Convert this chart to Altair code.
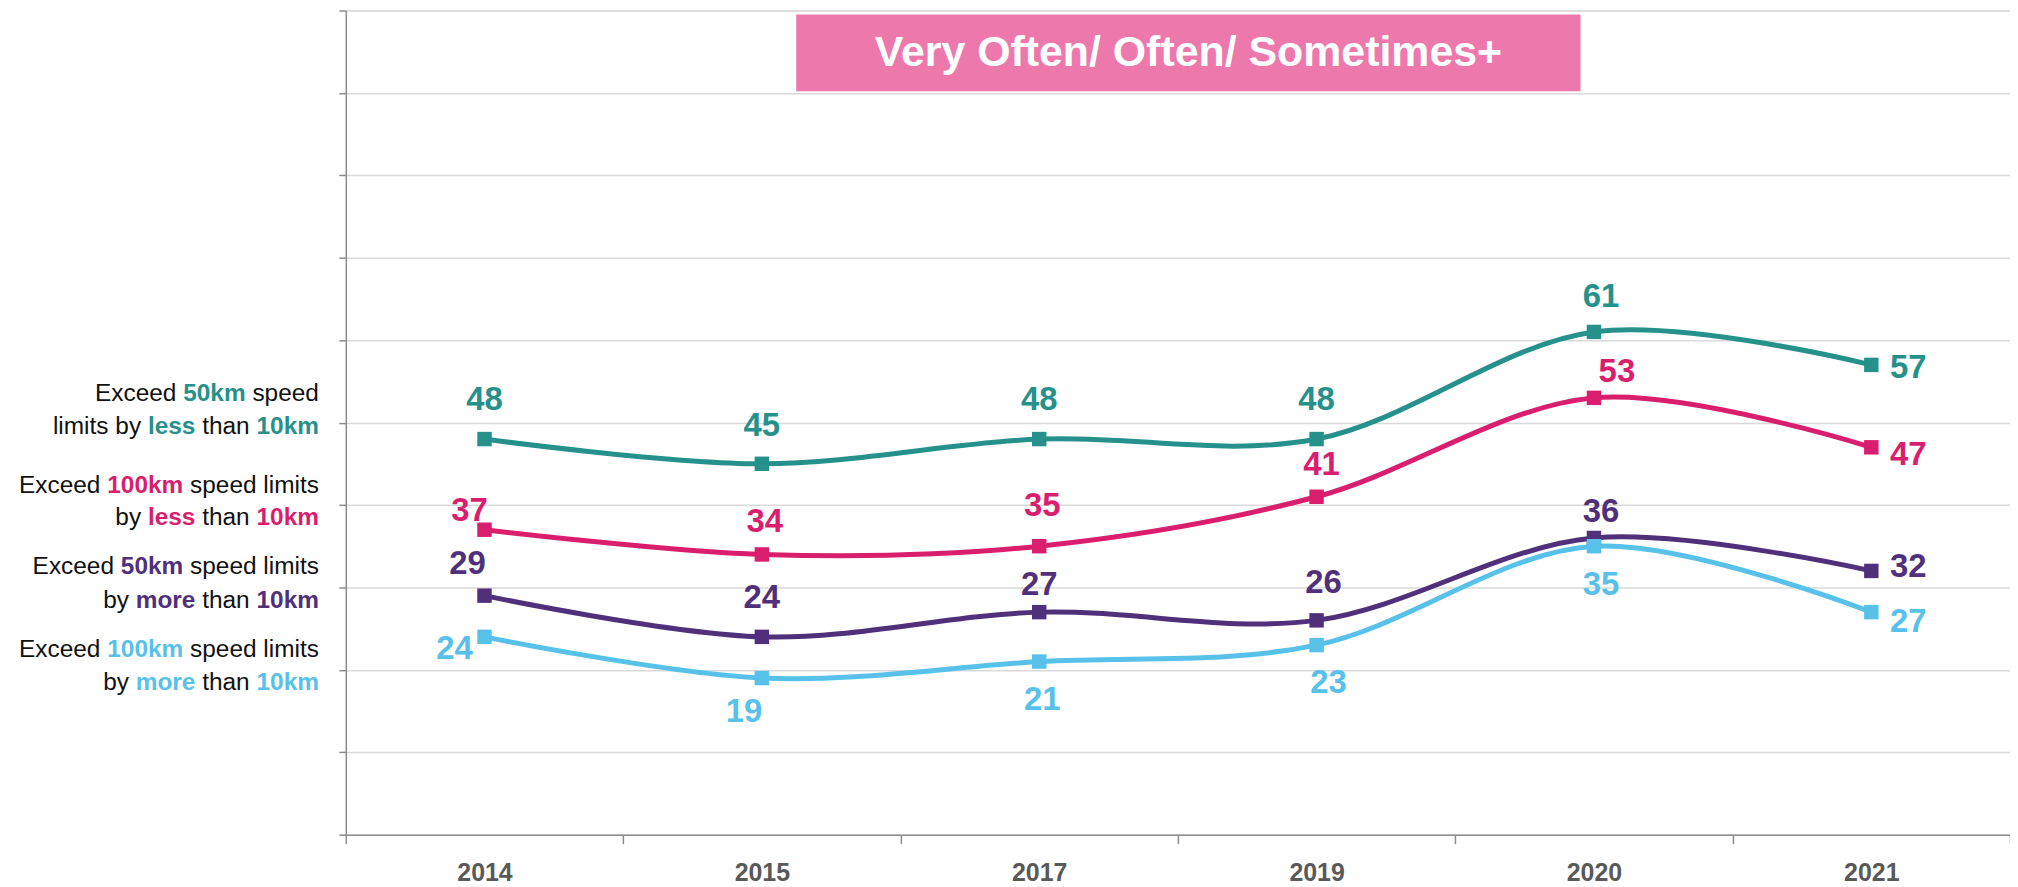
import altair as alt
import pandas as pd

# ---------------- data ----------------
YEARS = ["2014", "2015", "2017", "2019", "2020", "2021"]
SERIES = ["50km less", "100km less", "50km more", "100km more"]
V_50_LESS = [48, 45, 48, 48, 61, 57]
V_100_LESS = [37, 34, 35, 41, 53, 47]
V_50_MORE = [29, 24, 27, 26, 36, 32]
V_100_MORE = [24, 19, 21, 23, 35, 27]
VALUES = [V_50_LESS, V_100_LESS, V_50_MORE, V_100_MORE]
TITLE = "Very Often/ Often/ Sometimes+"

# ---------------- styles / layout ----------------
COLORS = ["#26918B", "#D91E6E", "#51307B", "#57C1EA"]
BLACK = "#111111"
TITLE_BG = "#ED78AB"
AXIS_GRAY = "#8C8C8C"
GRID_GRAY = "#D9D9D9"
FONT = "Liberation Sans"

W, H = 1670, 827
PAD = {"left": 339, "top": 1, "right": 0, "bottom": 50}

# label offsets (px) relative to each point: visual centre of the digits
LABEL_DX = [[0, 0, 0, 0, 7, 37],
            [-15, 3, 3, 5, 23, 37],
            [-17, 0, 0, 7, 7, 37],
            [-30, -18, 3, 12, 7, 37]]
LABEL_DY = [[-41, -40, -41, -41, -37, 1],
            [-21, -34, -42, -34, -28, 6],
            [-34, -41, -29, -39, -28, -6],
            [10, 32, 37, 36, 37, 8]]
LABEL_SIZE = 33

# left-hand rich-text legend: (text, colour index or None, bold)
LEGEND_ROWS = [
    [("Exceed ", None, False), ("50km", 0, True), (" speed", None, False)],
    [("limits by ", None, False), ("less", 0, True), (" than ", None, False), ("10km", 0, True)],
    [("Exceed ", None, False), ("100km", 1, True), (" speed limits", None, False)],
    [("by ", None, False), ("less", 1, True), (" than ", None, False), ("10km", 1, True)],
    [("Exceed ", None, False), ("50km", 2, True), (" speed limits", None, False)],
    [("by ", None, False), ("more", 2, True), (" than ", None, False), ("10km", 2, True)],
    [("Exceed ", None, False), ("100km", 3, True), (" speed limits", None, False)],
    [("by ", None, False), ("more", 3, True), (" than ", None, False), ("10km", 3, True)],
]
LEGEND_CENTER_Y = [383, 416, 475, 508, 557, 591, 640, 673]  # plot coords
LEGEND_RIGHT_X = -27
LEGEND_SIZE = 24.5

# Liberation Sans (Arial-compatible) advance widths per 1000 em
REG_W = {" ": 278, "E": 667, "x": 500, "c": 500, "e": 556, "d": 556, "s": 500,
         "p": 556, "l": 222, "i": 222, "m": 833, "t": 278, "b": 556, "y": 500,
         "h": 556, "a": 556, "n": 556, "o": 556, "r": 333, "k": 500}
BOLD_W = {" ": 278, "0": 556, "1": 556, "5": 556, "k": 556, "m": 889, "l": 278,
          "e": 556, "s": 556, "o": 611, "r": 389}


def text_width(s, bold, size):
    table = BOLD_W if bold else REG_W
    return sum(table.get(ch, 556) for ch in s) * size / 1000.0


# ---------------- data frame ----------------
rows = []
for s, vals in zip(SERIES, VALUES):
    for yr, v in zip(YEARS, vals):
        rows.append({"series": s, "year": yr, "value": v})
df = pd.DataFrame(rows)

x_enc = alt.X(
    "year:N",
    sort=YEARS,
    scale=alt.Scale(type="band", domain=YEARS, paddingInner=0, paddingOuter=0),
    axis=alt.Axis(
        title=None, labelAngle=0, grid=False, tickBand="extent",
        tickSize=9, tickColor=AXIS_GRAY, tickWidth=1.5,
        domainColor=AXIS_GRAY, domainWidth=1.5,
        labelFont=FONT, labelFontSize=25, labelFontWeight="bold",
        labelColor="#595959", labelBaseline="alphabetic", labelPadding=37,
    ),
)
y_enc = alt.Y(
    "value:Q",
    scale=alt.Scale(domain=[0, 100], nice=False, zero=True),
    axis=alt.Axis(
        title=None, labels=False, values=list(range(0, 101, 10)),
        tickSize=7, tickColor=AXIS_GRAY, tickWidth=1.5,
        domainColor=AXIS_GRAY, domainWidth=1.5,
        grid=True, gridColor=GRID_GRAY, gridWidth=1.5,
    ),
)

layers = []

# axes holder (invisible points)
layers.append(alt.Chart(df).mark_point(opacity=0).encode(x=x_enc, y=y_enc))

one = pd.DataFrame([{"k": 0}])

# title box
layers.append(
    alt.Chart(one).mark_rect(color=TITLE_BG).encode(
        x=alt.value(452), x2=alt.value(1239), y=alt.value(4), y2=alt.value(81)
    )
)
layers.append(
    alt.Chart(one).mark_text(
        font=FONT, fontSize=43, fontWeight="bold", color="white",
        align="center", baseline="alphabetic",
    ).encode(x=alt.value(845.5), y=alt.value(56), text=alt.value(TITLE))
)

# lines, markers and labels
for i, s in enumerate(SERIES):
    sub = df[df.series == s]
    layers.append(
        alt.Chart(sub).mark_line(
            interpolate="cardinal", tension=0, strokeWidth=5, color=COLORS[i]
        ).encode(x=alt.X("year:N", sort=YEARS), y="value:Q")
    )
    layers.append(
        alt.Chart(sub).mark_point(
            shape="square", filled=True, size=210, opacity=1, color=COLORS[i]
        ).encode(x=alt.X("year:N", sort=YEARS), y="value:Q")
    )
    cap = 0.716 * LABEL_SIZE
    for j, yr in enumerate(YEARS):
        layers.append(
            alt.Chart(sub)
            .transform_filter(alt.datum.year == yr)
            .mark_text(
                font=FONT, fontSize=LABEL_SIZE, fontWeight="bold", color=COLORS[i],
                align="center", baseline="alphabetic",
                dx=LABEL_DX[i][j], dy=LABEL_DY[i][j] + cap / 2,
            )
            .encode(x=alt.X("year:N", sort=YEARS), y="value:Q", text="value:Q")
        )

# rich-text legend on the left
cap_l = 0.716 * LEGEND_SIZE
for row, cy in zip(LEGEND_ROWS, LEGEND_CENTER_Y):
    total = sum(text_width(t, b, LEGEND_SIZE) for t, _, b in row)
    cursor = LEGEND_RIGHT_X - total
    for t, ci, b in row:
        w = text_width(t, b, LEGEND_SIZE)
        lead = len(t) - len(t.lstrip(" "))
        stripped = t.strip(" ")
        if stripped:
            x0 = cursor + text_width(" " * lead, b, LEGEND_SIZE)
            layers.append(
                alt.Chart(one).mark_text(
                    font=FONT, fontSize=LEGEND_SIZE,
                    fontWeight="bold" if b else "normal",
                    color=BLACK if ci is None else COLORS[ci],
                    align="left", baseline="alphabetic",
                ).encode(x=alt.value(x0), y=alt.value(cy + cap_l / 2),
                         text=alt.value(stripped))
            )
        cursor += w

chart = (
    alt.layer(*layers)
    .properties(width=W, height=H, padding=PAD,
                autosize=alt.AutoSizeParams(type="none"))
    .configure_view(stroke=None)
    .configure(font=FONT)
)

chart.save("out.html", embed_options={"renderer": "svg", "actions": False})
